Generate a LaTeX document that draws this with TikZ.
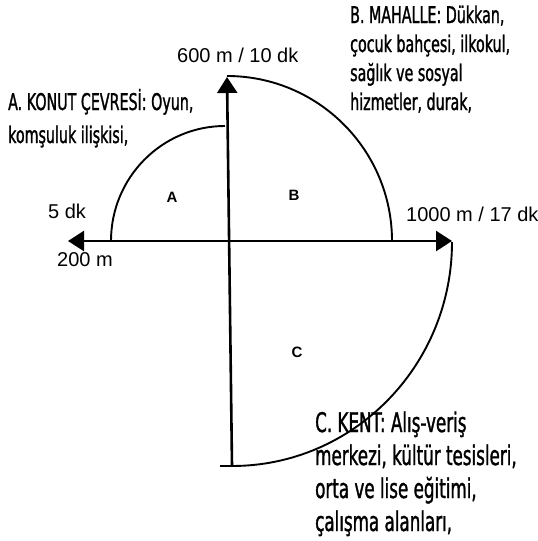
\documentclass[tikz,border=0pt]{standalone}
\usepackage{fontspec}
\setmainfont{Liberation Sans}
\newfontfamily\condfont[FakeStretch=0.62,FakeBold=1.2]{DejaVu Sans}
\usetikzlibrary{arrows.meta}
\tikzset{
  axisline/.style={line width=2.6pt,-{Triangle[length=16pt,width=20pt]}},
  zonearc/.style={line width=1.9pt},
  axislabel/.style={anchor=base west,font=\fontsize{20}{24}\selectfont,inner sep=0pt},
  desc/.style={anchor=base west,font=\condfont\fontsize{23}{33}\selectfont,inner sep=0pt,align=left},
  descb/.style={anchor=base west,font=\condfont\fontsize{23}{29}\selectfont,inner sep=0pt,align=left},
  descbig/.style={anchor=base west,font=\condfont\fontsize{27}{33}\selectfont,inner sep=0pt,align=left},
  zoneletter/.style={font=\bfseries\fontsize{15}{17}\selectfont,inner sep=0pt}
}
\begin{document}
\begin{tikzpicture}[x=1pt,y=-1pt]
\useasboundingbox (0,0) rectangle (538,541);
% key points
\coordinate (O) at (230,241);
\coordinate (L) at (68,241);
\coordinate (R) at (452,241);
\coordinate (T) at (227,77);
\coordinate (Bot) at (232,466);
\coordinate (Aa) at (111,241);
\coordinate (Ba) at (227,76);
\coordinate (Ca) at (452,242);
% axes
\draw[axisline] (O) -- (L);
\draw[axisline] (O) -- (R);
\draw[axisline] (Bot) -- (T);
% zone arcs
\draw[zonearc] (Aa) arc[start angle=180,end angle=270,x radius=114,y radius=115];
\draw[zonearc] (Ba) arc[start angle=270,end angle=360,x radius=165,y radius=165];
\draw[zonearc] (Ca) arc[start angle=0,end angle=90,x radius=220,y radius=224] coordinate (Cb);
\draw[zonearc] (Cb) -- ++(-12,0);
% zone letters
\node[zoneletter] (la) at (172,197) {A};
\node[zoneletter] (lb) at (294,195) {B};
\node[zoneletter] (lc) at (297,352) {C};
% axis labels
\node[axislabel] (t600) at (177,62) {600 m / 10 dk};
\node[axislabel] (t5) at (48,218) {5 dk};
\node[axislabel] (t200) at (57,266) {200 m};
\node[axislabel] (t1000) at (406,221) {1000 m / 17 dk};
% descriptions (anchor = baseline of the last line)
\node[desc] (da) at (8,143) {A. KONUT ÇEVRESİ: Oyun,\\komşuluk ilişkisi,};
\node[descb] (db) at (350,110) {B. MAHALLE: Dükkan,\\çocuk bahçesi, ilkokul,\\sağlık ve sosyal\\hizmetler, durak,};
\node[descbig] (dc) at (315,531) {C. KENT: Alış-veriş\\merkezi, kültür tesisleri,\\orta ve lise eğitimi,\\çalışma alanları,};
\end{tikzpicture}
\end{document}
